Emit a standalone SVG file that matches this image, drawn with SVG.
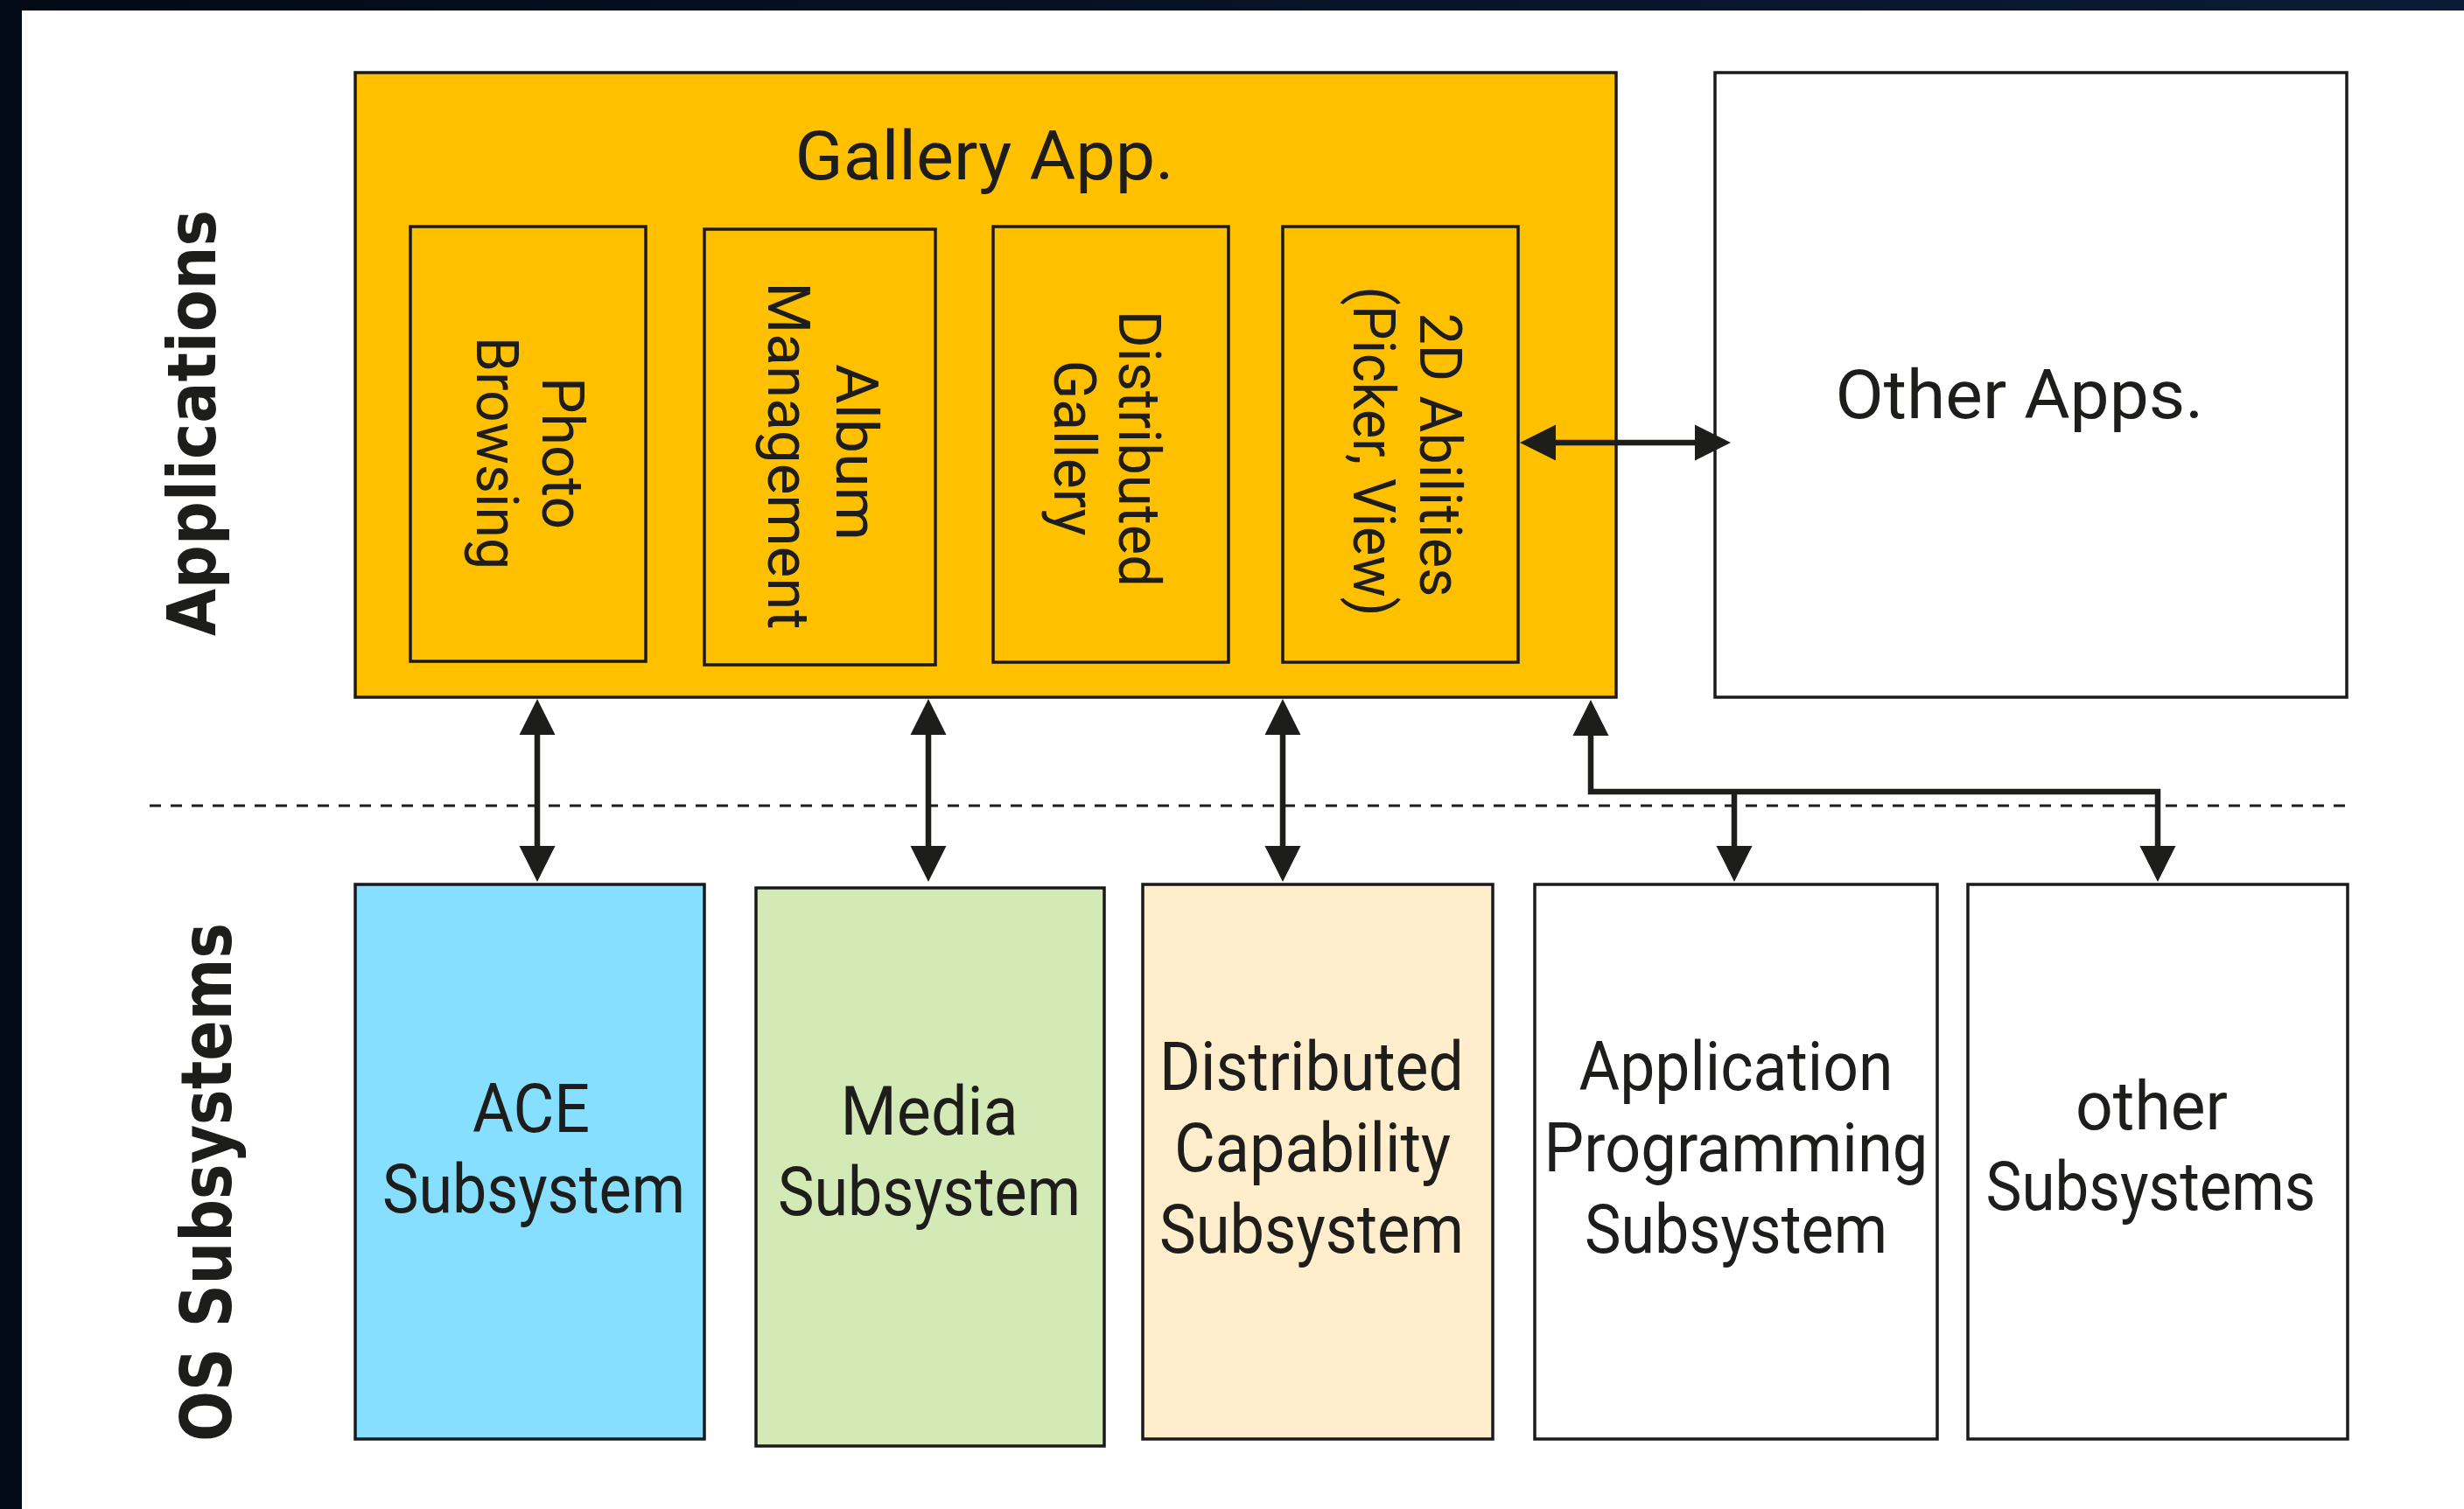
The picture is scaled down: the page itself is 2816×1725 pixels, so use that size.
<svg xmlns="http://www.w3.org/2000/svg" width="2816" height="1725" viewBox="0 0 2816 1725">
  <defs>
    <linearGradient id="topBand" x1="0" y1="0" x2="1" y2="0">
      <stop offset="0" stop-color="#030a16"/>
      <stop offset="1" stop-color="#0b1b37"/>
    </linearGradient>
    <marker id="head" markerUnits="userSpaceOnUse" viewBox="-2 -21 44 42" markerWidth="44" markerHeight="42" refX="0" refY="0" orient="auto-start-reverse" overflow="visible">
      <path d="M-1,-20.5 L40,0 L-1,20.5 Z" fill="#1d1d1b"/>
    </marker>
    <style>
      .box { stroke: #1a1a1a; stroke-width: 3.5; }
      .gold { fill: #ffc000; }
      .white { fill: #ffffff; }
      .lbl { font-family: Roboto, "Noto Sans", sans-serif; fill: #1d1d1b; text-anchor: middle; }
      .big { font-size: 78px; }
      .mid { font-size: 66px; }
      .side { font-family: "DejaVu Sans", Verdana, sans-serif; font-weight: bold; fill: #1d1d1b; text-anchor: middle; }
      .conn { fill: none; stroke: #1d1d1b; stroke-width: 6.5; stroke-linejoin: miter; }
      .arrow { marker-start: url(#head); marker-end: url(#head); }
      .one { marker-end: url(#head); }
    </style>
  </defs>

  <!-- page background and dark frame -->
  <rect x="0" y="0" width="2816" height="1725" fill="#ffffff"/>
  <rect x="0" y="0" width="2816" height="12" fill="url(#topBand)"/>
  <rect x="0" y="0" width="25" height="1725" fill="#030a17"/>

  <!-- layer labels -->
  <text class="side" font-size="76" textLength="487" lengthAdjust="spacingAndGlyphs" transform="translate(246,483.5) rotate(-90)">Applications</text>
  <text class="side" font-size="80" textLength="593" lengthAdjust="spacingAndGlyphs" transform="translate(264,1351.5) rotate(-90)">OS Subsystems</text>

  <!-- layer separator -->
  <line x1="171" y1="921" x2="2680" y2="921" stroke="#1d1d1b" stroke-width="3" stroke-dasharray="13 11"/>

  <!-- Gallery application -->
  <g id="gallery-app">
    <rect class="box gold" x="406" y="83" width="1441" height="714"/>
    <text class="lbl" font-size="77" x="1125" y="205" textLength="433" lengthAdjust="spacingAndGlyphs">Gallery App.</text>
  </g>

  <g id="photo-browsing">
    <rect class="box gold" x="469" y="259" width="269" height="497"/>
    <text class="lbl mid" textLength="174" lengthAdjust="spacingAndGlyphs" transform="translate(620,518) rotate(90)">Photo</text>
    <text class="lbl mid" textLength="266" lengthAdjust="spacingAndGlyphs" transform="translate(545,518) rotate(90)">Browsing</text>
  </g>

  <g id="album-management">
    <rect class="box gold" x="805" y="262" width="264" height="498"/>
    <text class="lbl mid" textLength="202" lengthAdjust="spacingAndGlyphs" transform="translate(956,517) rotate(90)">Album</text>
    <text class="lbl mid" textLength="397" lengthAdjust="spacingAndGlyphs" transform="translate(878,521) rotate(90)">Management</text>
  </g>

  <g id="distributed-gallery">
    <rect class="box gold" x="1135" y="259" width="269" height="498"/>
    <text class="lbl mid" textLength="316" lengthAdjust="spacingAndGlyphs" transform="translate(1279,513) rotate(90)">Distributed</text>
    <text class="lbl mid" textLength="201" lengthAdjust="spacingAndGlyphs" transform="translate(1205,512) rotate(90)">Gallery</text>
  </g>

  <g id="abilities-2d">
    <rect class="box gold" x="1466" y="259" width="269" height="498"/>
    <text class="lbl mid" textLength="325" lengthAdjust="spacingAndGlyphs" transform="translate(1623,520) rotate(90)">2D Abilities</text>
    <text class="lbl mid" textLength="377" lengthAdjust="spacingAndGlyphs" transform="translate(1547,516) rotate(90)">(Picker, View)</text>
  </g>

  <g id="other-apps">
    <rect class="box white" x="1960" y="83" width="722" height="714"/>
    <text class="lbl big" x="2308" y="478" textLength="421" lengthAdjust="spacingAndGlyphs">Other Apps.</text>
  </g>

  <!-- OS subsystems -->
  <g id="ace-subsystem">
    <rect class="box" fill="#86dffe" x="406" y="1011" width="399" height="634"/>
    <text class="lbl big" x="607" y="1294" textLength="134" lengthAdjust="spacingAndGlyphs">ACE</text>
    <text class="lbl big" x="610" y="1386" textLength="346" lengthAdjust="spacingAndGlyphs">Subsystem</text>
  </g>

  <g id="media-subsystem">
    <rect class="box" fill="#d3eab7" x="864" y="1015" width="398" height="638"/>
    <text class="lbl big" x="1062" y="1297" textLength="203" lengthAdjust="spacingAndGlyphs">Media</text>
    <text class="lbl big" x="1062" y="1389" textLength="346" lengthAdjust="spacingAndGlyphs">Subsystem</text>
  </g>

  <g id="distributed-capability">
    <rect class="box" fill="#ffedcb" x="1306" y="1011" width="400" height="634"/>
    <text class="lbl big" x="1499" y="1246" textLength="348" lengthAdjust="spacingAndGlyphs">Distributed</text>
    <text class="lbl big" x="1500" y="1339" textLength="316" lengthAdjust="spacingAndGlyphs">Capability</text>
    <text class="lbl big" x="1499" y="1432" textLength="348" lengthAdjust="spacingAndGlyphs">Subsystem</text>
  </g>

  <g id="app-programming">
    <rect class="box white" x="1754" y="1011" width="460" height="634"/>
    <text class="lbl big" x="1984" y="1246" textLength="359" lengthAdjust="spacingAndGlyphs">Application</text>
    <text class="lbl big" x="1984" y="1339" textLength="439" lengthAdjust="spacingAndGlyphs">Programming</text>
    <text class="lbl big" x="1984" y="1432" textLength="346" lengthAdjust="spacingAndGlyphs">Subsystem</text>
  </g>

  <g id="other-subsystems">
    <rect class="box white" x="2249" y="1011" width="434" height="634"/>
    <text class="lbl big" x="2459" y="1291" textLength="174" lengthAdjust="spacingAndGlyphs">other</text>
    <text class="lbl big" x="2458" y="1383" textLength="377" lengthAdjust="spacingAndGlyphs">Subsystems</text>
  </g>

  <!-- connectors -->
  <g id="connectors">
    <path class="conn arrow" d="M1777,506 H1938"/>
    <path class="conn arrow" d="M614,839 V968"/>
    <path class="conn arrow" d="M1061,839 V968"/>
    <path class="conn arrow" d="M1466,839 V968"/>
    <path class="conn arrow" d="M1818,840 V905 H2466 V968"/>
    <path class="conn one" d="M1982,905 V968"/>
  </g>
</svg>
